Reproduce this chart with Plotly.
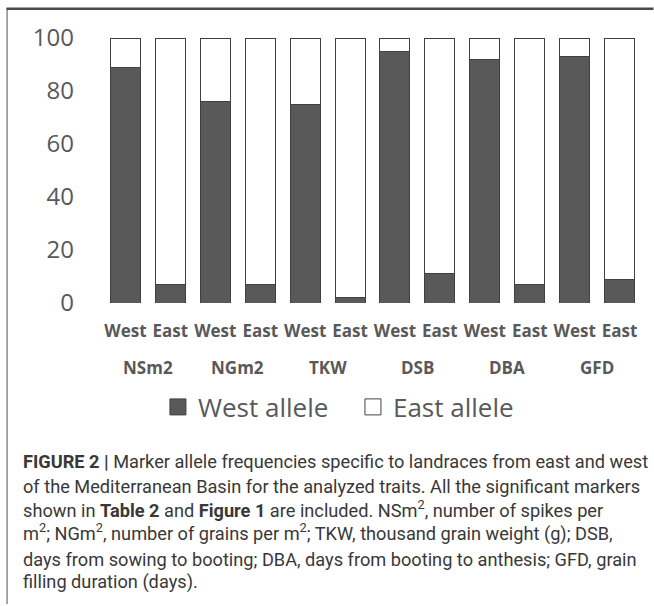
import plotly.graph_objects as go

# ---- data ----
traits = ["NSm2", "NGm2", "TKW", "DSB", "DBA", "GFD"]
origins = ["West", "East"]
west_allele = [89, 7, 76, 7, 75, 2, 95, 11, 92, 7, 93, 9]
east_allele = [11, 93, 24, 93, 25, 98, 5, 89, 8, 93, 7, 91]
y_ticks = [0, 20, 40, 60, 80, 100]
series_names = ["West allele", "East allele"]
caption_lines = [
    "<b>FIGURE 2 |</b> Marker allele frequencies specific to landraces from east and west",
    "of the Mediterranean Basin for the analyzed traits. All the significant markers",
    "shown in <b>Table 2</b> and <b>Figure 1</b> are included. NSm<sup>2</sup>, number of spikes per",
    "m<sup>2</sup>; NGm<sup>2</sup>, number of grains per m<sup>2</sup>; TKW, thousand grain weight (g); DSB,",
    "days from sowing to booting; DBA, days from booting to anthesis; GFD, grain",
    "filling duration (days).",
]

# ---- layout geometry (pixels) ----
W, H = 654, 606
PL, PR, PT, PB = 103, 642.5, 38, 303


def px(x):
    return (x - PL) / (PR - PL)


def py(y):
    return (PB - y) / (PB - PT)


categories = [f"{t} {o}" for t in traits for o in origins]
tick_text = [o for _ in traits for o in origins]

dark = "#595959"
edge = "#404040"

fig = go.Figure()
fig.add_trace(go.Bar(x=categories, y=west_allele, name=series_names[0],
                     marker=dict(color=dark, line=dict(color=edge, width=1)),
                     showlegend=False, cliponaxis=False))
fig.add_trace(go.Bar(x=categories, y=east_allele, name=series_names[1],
                     marker=dict(color="white", line=dict(color=edge, width=1)),
                     showlegend=False, cliponaxis=False))
# legend entries
fig.add_trace(go.Scatter(x=[None], y=[None], mode="markers", name=series_names[0],
                         marker=dict(symbol="square", size=16, color=dark,
                                     line=dict(color=edge, width=1))))
fig.add_trace(go.Scatter(x=[None], y=[None], mode="markers", name=series_names[1],
                         marker=dict(symbol="square", size=16, color="white",
                                     line=dict(color=edge, width=1))))

fig.update_layout(
    width=W, height=H,
    margin=dict(l=PL, r=W - PR, t=PT, b=H - PB, autoexpand=False),
    paper_bgcolor="white", plot_bgcolor="white",
    barmode="stack", bargap=0.333,
    showlegend=True,
    legend=dict(orientation="h", x=px(158), y=py(407), xanchor="left", yanchor="middle",
                traceorder="normal", entrywidth=150,
                font=dict(family="Open Sans", size=26, color=dark),
                itemsizing="trace", bgcolor="rgba(0,0,0,0)"),
    xaxis=dict(type="category", categoryorder="array", categoryarray=categories,
               tickvals=categories, ticktext=tick_text,
               showgrid=False, showline=False, ticks="", ticklabelstandoff=16,
               tickfont=dict(family="Open Sans", size=17, color=dark, weight="bold")),
    yaxis=dict(range=[0, 100], tickvals=y_ticks, showgrid=False, showline=False,
               zeroline=False, ticks="", ticklabelstandoff=28,
               tickfont=dict(family="Open Sans", size=24, color=dark)),
    shapes=[
        dict(type="line", xref="paper", yref="paper", x0=px(7), x1=px(7), y0=py(8), y1=py(604),
             line=dict(color="#8a8a8a", width=1.5)),
        dict(type="rect", xref="paper", yref="paper", x0=px(6.5), x1=px(654), y0=py(10), y1=py(7.5),
             line=dict(width=0), fillcolor="#4a4a4a", layer="above"),
    ],
)

# group (trait) labels under each West/East pair
for i, t in enumerate(traits):
    fig.add_annotation(text=f"<b>{t}</b>", xref="x", yref="paper",
                       x=i * len(origins) + (len(origins) - 1) / 2, y=py(367),
                       xanchor="center", yanchor="middle", showarrow=False,
                       font=dict(family="Open Sans", size=17, color=dark))

line_centers = [462, 487, 511, 535, 560, 583]
for txt, yc in zip(caption_lines, line_centers):
    fig.add_annotation(text=txt, xref="paper", yref="paper", x=px(21), y=py(yc + 12),
                       xanchor="left", yanchor="bottom", showarrow=False, align="left",
                       font=dict(family="Roboto", size=18.2, color="#383838"))

fig.write_html("out.html", config={"displayModeBar": False},
               post_script="document.body.style.margin='0'; document.body.style.overflow='hidden'; window.scrollTo(0,0);")
